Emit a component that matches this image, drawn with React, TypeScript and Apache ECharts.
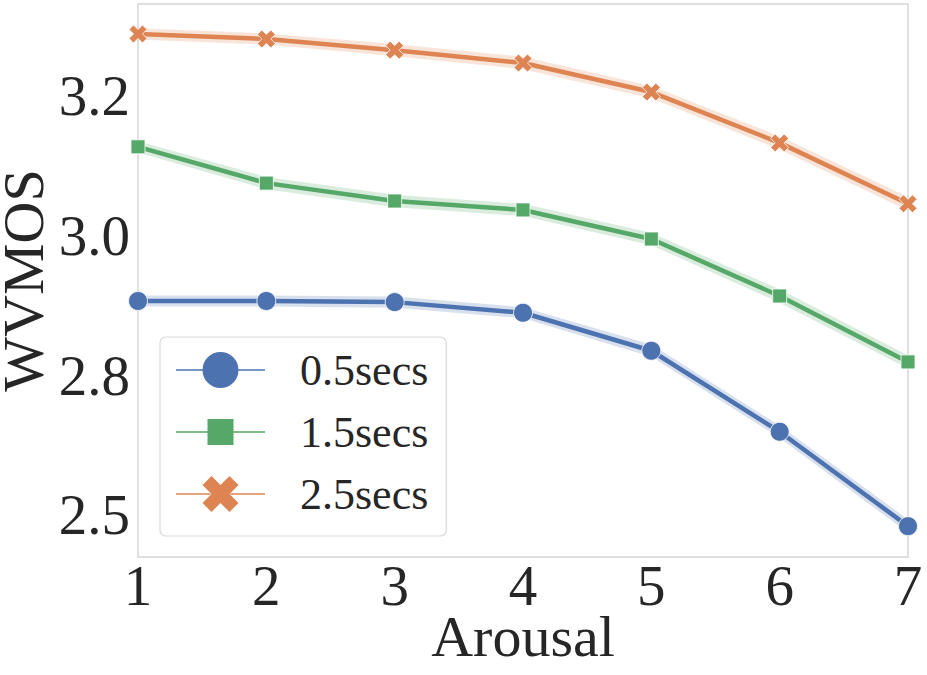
import React, { useEffect, useRef } from "react";
import * as echarts from "echarts";

const arousal = [1, 2, 3, 4, 5, 6, 7];
const seriesNames = ["0.5secs", "1.5secs", "2.5secs"];
const wvmos05 = [2.883, 2.883, 2.881, 2.862, 2.794, 2.649, 2.48];
const wvmos15 = [3.159, 3.094, 3.062, 3.046, 2.994, 2.892, 2.774];
const wvmos25 = [3.361, 3.352, 3.332, 3.309, 3.257, 3.166, 3.057];
const ci05 = [0.01, 0.01, 0.01, 0.01, 0.011, 0.011, 0.012];
const ci15 = [0.01, 0.011, 0.011, 0.011, 0.011, 0.012, 0.012];
const ci25 = [0.01, 0.01, 0.011, 0.011, 0.011, 0.012, 0.012];
const yTickValues = [2.5, 2.75, 3.0, 3.25];
const yTickLabels = ["2.5", "2.8", "3.0", "3.2"];
const xTickValues = [1, 2, 3, 4, 5, 6, 7];

const COLORS = ["#4C72B0", "#55A868", "#DD8452"];
const FONT = "Liberation Serif";
const TXT = "#262626";

const X_PATH = "path://M5,0L10,5L15,0L20,5L15,10L20,15L15,20L10,15L5,20L0,15L5,10L0,5Z";

const corners = "M0,0L0.01,0L0,0.01Z M89,36L88.99,36L89,35.99Z ";
const LEG_CIRCLE =
  "path://" +
  corners +
  "M0,17.25L26.5,17.25L26.5,18.75L0,18.75Z M62.5,17.25L89,17.25L89,18.75L62.5,18.75Z " +
  "M26.5,18A18,18 0 1,0 62.5,18A18,18 0 1,0 26.5,18Z";
const LEG_SQUARE =
  "path://" +
  corners +
  "M0,17.25L31.5,17.25L31.5,18.75L0,18.75Z M57.5,17.25L89,17.25L89,18.75L57.5,18.75Z " +
  "M31.5,5L57.5,5L57.5,31L31.5,31Z";
const LEG_X =
  "path://" +
  corners +
  "M0,17.25L34.5,17.25L34.5,18.75L0,18.75Z M54.5,17.25L89,17.25L89,18.75L54.5,18.75Z " +
  "M35.5,0L44.5,9L53.5,0L62.5,9L53.5,18L62.5,27L53.5,36L44.5,27L35.5,36L26.5,27L35.5,18L26.5,9Z";

export default function App() {
  const ref = useRef<HTMLDivElement>(null);
  useEffect(() => {
    document.body.style.margin = "0";
    if (!ref.current) return;
    const chart = echarts.init(ref.current, undefined, { renderer: "svg" });
    const means = [wvmos05, wvmos15, wvmos25];
    const cis = [ci05, ci15, ci25];
    const symbols = ["circle", "rect", X_PATH];
    const sizes = [19, 14, 18];
    const legendIcons = [LEG_CIRCLE, LEG_SQUARE, LEG_X];

    const series: any[] = [];
    means.forEach((m, i) => {
      const bandData = m.map((v, j) => [arousal[j], v - cis[i][j], v + cis[i][j]]);
      series.push({
        name: "band" + i,
        type: "custom",
        silent: true,
        z: 1,
        data: [bandData[0]],
        renderItem: (params: any, api: any) => {
          const upper = bandData.map((d) => api.coord([d[0], d[2]]));
          const lower = bandData.map((d) => api.coord([d[0], d[1]])).reverse();
          return {
            type: "polygon",
            shape: { points: upper.concat(lower) },
            style: { fill: COLORS[i], opacity: 0.22 },
          };
        },
      });
    });
    means.forEach((m, i) => {
      series.push({
        name: seriesNames[i],
        type: "line",
        data: m.map((v, j) => [arousal[j], v]),
        symbol: symbols[i],
        symbolSize: sizes[i],
        showAllSymbol: true,
        lineStyle: { color: COLORS[i], width: 4.5 },
        itemStyle: { color: COLORS[i], borderColor: "#ffffff", borderWidth: 0.8 },
        z: 3,
      });
    });

    chart.setOption({
      animation: false,
      grid: {
        left: 138,
        top: 4,
        right: 19,
        bottom: 118,
        show: true,
        borderColor: "#d6d6d6",
        borderWidth: 1.5,
        backgroundColor: "#ffffff",
        containLabel: false,
        outerBoundsMode: "none",
      },
      legend: {
        data: seriesNames.map((n, i) => ({
          name: n,
          icon: legendIcons[i],
          itemStyle: { color: COLORS[i], borderWidth: 0 },
        })),
        orient: "vertical",
        left: 160,
        top: 337,
        itemWidth: 89,
        itemHeight: 36,
        itemGap: 18,
        padding: [11, 18, 20, 16],
        borderColor: "#d9d9d9",
        borderWidth: 1.2,
        borderRadius: 6,
        backgroundColor: "#ffffff",
        textStyle: {
          fontFamily: FONT,
          fontSize: 44,
          color: TXT,
          lineHeight: 44,
          padding: [0, 0, 0, 30],
        },
      },
      xAxis: {
        type: "value",
        min: 1,
        max: 7,
        interval: 1,
        name: "Arousal",
        nameLocation: "middle",
        nameGap: 57,
        nameMoveOverlap: false,
        nameTextStyle: { fontFamily: FONT, fontSize: 58, color: TXT, lineHeight: 44 },
        axisLine: { show: false },
        axisTick: { show: false },
        splitLine: { show: false },
        axisLabel: {
          customValues: xTickValues,
          fontFamily: FONT,
          fontSize: 57,
          color: TXT,
          margin: 0,
        },
      },
      yAxis: {
        type: "value",
        min: 2.4248,
        max: 3.4146,
        name: "WVMOS",
        nameLocation: "middle",
        nameGap: 93,
        nameMoveOverlap: false,
        nameTextStyle: { fontFamily: FONT, fontSize: 58, color: TXT, lineHeight: 44 },
        axisLine: { show: false },
        axisTick: { show: false },
        splitLine: { show: false },
        axisLabel: {
          customValues: yTickValues,
          formatter: (v: number) => {
            const k = yTickValues.findIndex((t) => Math.abs(t - v) < 1e-6);
            return k >= 0 ? yTickLabels[k] : "";
          },
          fontFamily: FONT,
          fontSize: 57,
          color: TXT,
          margin: 8,
        },
      },
      series,
    });
    return () => chart.dispose();
  }, []);
  return <div ref={ref} style={{ width: 927, height: 675 }} />;
}
